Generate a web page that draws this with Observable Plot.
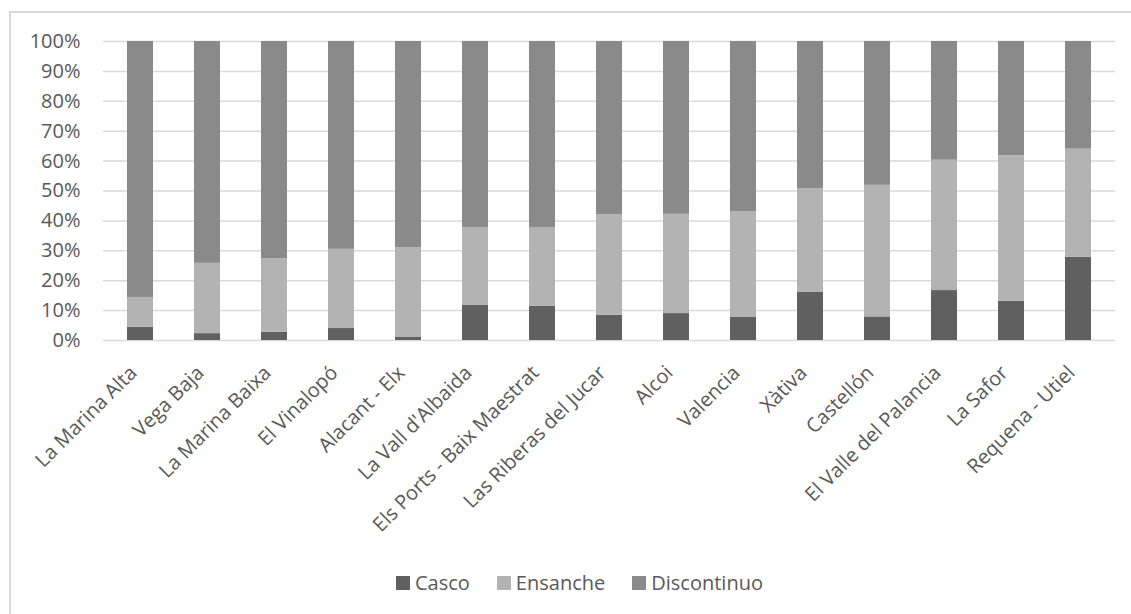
<!DOCTYPE html>
<html>
<head>
<meta charset="utf-8">
<script src="https://cdn.jsdelivr.net/npm/d3@7"></script>
<script src="https://cdn.jsdelivr.net/npm/@observablehq/plot@0.6"></script>
<style>
  html, body { margin: 0; padding: 0; background: #fff; }
  #wrap { position: relative; width: 1131px; height: 614px; overflow: hidden; font-family: "Open Sans", sans-serif; }
  #frame { position: absolute; left: 9px; top: 11px; width: 1140px; height: 640px; border: 2px solid #d9d9d9; box-sizing: border-box; }
  #chart { position: absolute; left: 0; top: 0; }
  #legend { position: absolute; left: 396px; top: 569px; display: flex; align-items: center; font-size: 20px; color: #595959; }
  #legend .item { display: flex; align-items: center; margin-right: 27px; }
  #legend .sw { width: 14px; height: 14px; margin-right: 5px; }
</style>
</head>
<body>
<div id="wrap">
  <div id="frame"></div>
  <div id="chart"></div>
  <div id="legend"></div>
</div>
<script>
const categories = ["La Marina Alta", "Vega Baja", "La Marina Baixa", "El Vinalopó", "Alacant - Elx", "La Vall d'Albaida", "Els Ports - Baix Maestrat", "Las Riberas del Jucar", "Alcoi", "Valencia", "Xàtiva", "Castellón", "El Valle del Palancia", "La Safor", "Requena - Utiel"];
const series = ["Casco", "Ensanche", "Discontinuo"];
const casco       = [4.4, 2.3, 2.8, 4.0, 1.0, 11.7, 11.4, 8.4, 9.0, 7.7, 16.2, 7.9, 16.7, 13.1, 27.8];
const ensanche    = [10.0, 23.5, 24.5, 26.5, 30.0, 26.1, 26.4, 33.6, 33.2, 35.4, 34.6, 44.0, 43.6, 48.7, 36.2];
const discontinuo = [85.6, 74.2, 72.7, 69.5, 69.0, 62.2, 62.2, 58.0, 57.8, 56.9, 49.2, 48.1, 39.7, 38.2, 36.0];
const yTicks = [0, 10, 20, 30, 40, 50, 60, 70, 80, 90, 100];
const colors = ["#606060", "#b3b3b3", "#8a8a8a"];

const seriesValues = [casco, ensanche, discontinuo];
const data = [];
series.forEach((s, si) => categories.forEach((c, ci) => data.push({region: c, series: s, value: seriesValues[si][ci]})));

const chart = Plot.plot({
  width: 1131,
  height: 560,
  marginLeft: 103,
  marginRight: 16,
  marginTop: 41,
  marginBottom: 220,
  style: {fontFamily: "Open Sans, sans-serif", fontSize: "20px", color: "#595959", background: "transparent"},
  x: {domain: categories, paddingInner: 0.615, paddingOuter: 0.31, label: null},
  y: {domain: [0, 100], label: null},
  color: {domain: series, range: colors},
  marks: [
    Plot.ruleY(yTicks, {stroke: "#d9d9d9", strokeWidth: 1.5}),
    Plot.barY(data, Plot.stackY({x: "region", y: "value", fill: "series", z: "series", order: series})),
    Plot.axisY({ticks: yTicks, tickFormat: d => d + "%", tickSize: 0, tickPadding: 23, fontSize: 20, fill: "#595959", label: null}),
    Plot.axisX({tickRotate: -45, tickSize: 0, tickPadding: 29, dx: -7, fontSize: 20, fill: "#595959", label: null})
  ]
});
document.getElementById("chart").appendChild(chart);

const legend = document.getElementById("legend");
series.forEach((s, i) => {
  const item = document.createElement("div");
  item.className = "item";
  const sw = document.createElement("div");
  sw.className = "sw";
  sw.style.background = colors[i];
  const t = document.createElement("span");
  t.textContent = s;
  item.appendChild(sw);
  item.appendChild(t);
  legend.appendChild(item);
});
</script>
</body>
</html>
